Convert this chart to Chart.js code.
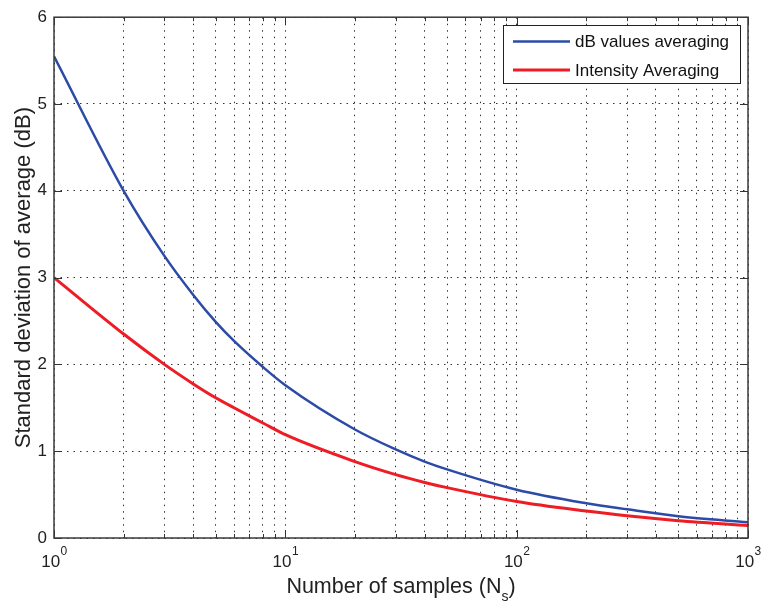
<!DOCTYPE html>
<html>
<head>
<meta charset="utf-8">
<script src="https://cdn.jsdelivr.net/npm/chart.js@4.4.1/dist/chart.umd.min.js"></script>
<style>
  html, body { margin: 0; padding: 0; background: #fff; }
</style>
</head>
<body>
<canvas id="chart1" width="763" height="605"></canvas>
<script>
// number of samples averaged
const samples = [1, 2, 3, 4, 5, 6, 8, 10, 20, 30, 40, 50, 100, 200, 300, 500, 1000];
// std. deviation of the average (dB)
const dbAveraging = [5.55, 4.0, 3.25, 2.80, 2.49, 2.27, 1.97, 1.76, 1.25, 1.02, 0.88, 0.79, 0.556, 0.40, 0.33, 0.25, 0.18];
const intensityAveraging = [3.0, 2.35, 2.0, 1.775, 1.615, 1.50, 1.325, 1.19, 0.88, 0.73, 0.64, 0.58, 0.42, 0.31, 0.255, 0.20, 0.145];

const seriesNames = ['dB values averaging', 'Intensity Averaging'];
const seriesColors = ['#2b4ba6', '#ee1d25'];
const decades = [1, 10, 100, 1000];
const decadeExponents = ['0', '1', '2', '3'];
const yTicks = [0, 1, 2, 3, 4, 5, 6];

const FONT = "'Liberation Sans', Arial, Helvetica, sans-serif";

// log grid: 1..9 in each decade, plus the last decade
const xGrid = [];
decades.slice(0, -1).forEach(d => { for (let m = 1; m < 10; m++) xGrid.push(d * m); });
xGrid.push(decades[decades.length - 1]);

const toPoints = ys => samples.map((n, i) => ({ x: n, y: ys[i] }));

// matlab-ish box, inward ticks, superscript tick labels and boxed legend
const matlabAxes = {
  id: 'matlabAxes',
  afterDraw(chart) {
    const { ctx, chartArea: a, scales: { x, y } } = chart;
    const seg = (x1, y1, x2, y2) => { ctx.beginPath(); ctx.moveTo(x1, y1); ctx.lineTo(x2, y2); ctx.stroke(); };
    ctx.save();

    ctx.strokeStyle = '#333';
    ctx.lineWidth = 1;
    xGrid.forEach(v => {
      const px = Math.round(x.getPixelForValue(v)) + 0.5;
      const len = decades.includes(v) ? 8 : 4;
      seg(px, a.bottom, px, a.bottom - len);
      seg(px, a.top, px, a.top + len);
    });
    yTicks.forEach(v => {
      const py = Math.round(y.getPixelForValue(v)) + 0.5;
      seg(a.left, py, a.left + 8, py);
      seg(a.right, py, a.right - 8, py);
    });

    ctx.lineWidth = 1.5;
    ctx.strokeStyle = '#3a3a3a';
    ctx.strokeRect(a.left, a.top, a.right - a.left, a.bottom - a.top);

    // 10^k labels
    ctx.fillStyle = '#222';
    ctx.textBaseline = 'alphabetic';
    ctx.textAlign = 'left';
    decades.forEach((v, i) => {
      ctx.font = `17px ${FONT}`;
      const wBase = ctx.measureText('10').width;
      ctx.font = `12px ${FONT}`;
      const wSup = ctx.measureText(decadeExponents[i]).width;
      const left = x.getPixelForValue(v) - (wBase + wSup) / 2;
      ctx.font = `17px ${FONT}`;
      ctx.fillText('10', left, 567);
      ctx.font = `12px ${FONT}`;
      ctx.fillText(decadeExponents[i], left + wBase + 0.5, 555);
    });

    // axis title with subscript
    const main = 'Number of samples (N';
    ctx.font = `21.5px ${FONT}`;
    const wMain = ctx.measureText(main).width;
    const wClose = ctx.measureText(')').width;
    ctx.font = `14px ${FONT}`;
    const wSub = ctx.measureText('s').width;
    const tx = (a.left + a.right) / 2 - (wMain + wSub + wClose) / 2;
    ctx.font = `21.5px ${FONT}`;
    ctx.fillText(main, tx, 593);
    ctx.font = `14px ${FONT}`;
    ctx.fillText('s', tx + wMain, 601);
    ctx.font = `21.5px ${FONT}`;
    ctx.fillText(')', tx + wMain + wSub, 593);

    // legend
    const box = { l: 503, t: 25, r: 740, b: 83 };
    ctx.fillStyle = '#fff';
    ctx.fillRect(box.l, box.t, box.r - box.l, box.b - box.t);
    ctx.lineWidth = 1;
    ctx.strokeStyle = '#222';
    ctx.strokeRect(box.l + 0.5, box.t + 0.5, box.r - box.l, box.b - box.t);
    ctx.font = `17px ${FONT}`;
    ctx.textBaseline = 'middle';
    chart.data.datasets.forEach((ds, i) => {
      const cy = 41.5 + i * 28.5;
      ctx.strokeStyle = ds.borderColor;
      ctx.lineWidth = ds.borderWidth;
      seg(513, cy, 570, cy);
      ctx.fillStyle = '#111';
      ctx.fillText(ds.label, 575, cy + 1);
    });

    ctx.restore();
  }
};

new Chart(document.getElementById('chart1'), {
  type: 'line',
  data: {
    datasets: [{
      label: seriesNames[0],
      data: toPoints(dbAveraging),
      borderColor: seriesColors[0],
      borderWidth: 2.5,
      pointRadius: 0,
      cubicInterpolationMode: 'monotone'
    },
    {
      label: seriesNames[1],
      data: toPoints(intensityAveraging),
      borderColor: seriesColors[1],
      borderWidth: 3,
      pointRadius: 0,
      cubicInterpolationMode: 'monotone'
    }]
  },
  options: {
    responsive: false,
    animation: false,
    devicePixelRatio: 1,
    layout: {
      padding: { top: 16, right: 15, left: 0, bottom: 0 }
    },
    plugins: {
      legend: { display: false },
      tooltip: { enabled: false }
    },
    scales: {
      x: {
        type: 'logarithmic',
        min: 1,
        max: 1000,
        afterBuildTicks: s => { s.ticks = xGrid.map(v => ({ value: v })); },
        afterFit: s => { s.height = 67; },
        ticks: { display: false },
        grid: { color: '#333', lineWidth: 1, drawTicks: false },
        border: { display: false, dash: [1.5, 5] }
      },
      y: {
        min: 0,
        max: 6,
        afterBuildTicks: s => { s.ticks = yTicks.map(v => ({ value: v })); },
        afterFit: s => { s.width = 54; },
        ticks: {
          padding: 7,
          color: '#222',
          font: { family: FONT, size: 17 }
        },
        grid: { color: '#333', lineWidth: 1, drawTicks: false },
        border: { display: false, dash: [1.5, 5] },
        title: {
          display: true,
          text: 'Standard deviation of average (dB)',
          color: '#222',
          font: { family: FONT, size: 22 },
          padding: { top: 11, bottom: 0 }
        }
      }
    }
  },
  plugins: [matlabAxes]
});
</script>
</body>
</html>
